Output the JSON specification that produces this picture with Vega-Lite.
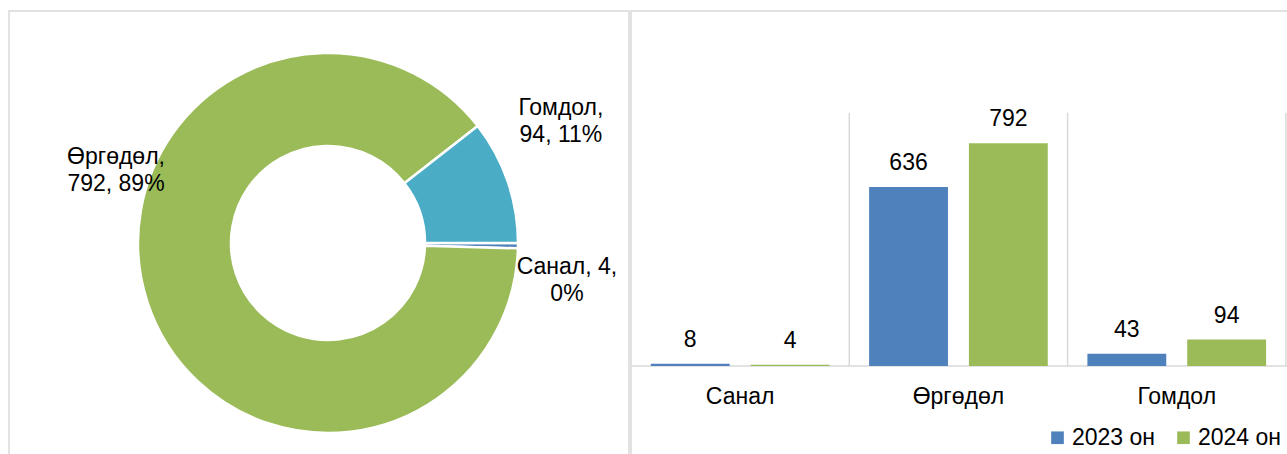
{
  "$schema": "https://vega.github.io/schema/vega-lite/v6.json",
  "padding": {"left": 8, "top": 10, "right": 0, "bottom": 0},
  "background": "white",
  "spacing": 2,
  "bounds": "flush",
  "resolve": {"scale": {"color": "independent"}, "legend": {"color": "independent"}},
  "config": {
    "font": "Liberation Sans",
    "view": {"stroke": null},
    "text": {"font": "Liberation Sans", "color": "#000000"}
  },
  "datasets": {
    "share": [
      {"cat": "Санал", "value": 4, "label": "Санал, 4,\n0%"},
      {"cat": "Өргөдөл", "value": 792, "label": "Өргөдөл,\n792, 89%"},
      {"cat": "Гомдол", "value": 94, "label": "Гомдол,\n94, 11%"}
    ],
    "bars": [
      {"cat": "Санал", "year": "2023 он", "value": 8},
      {"cat": "Санал", "year": "2024 он", "value": 4},
      {"cat": "Өргөдөл", "year": "2023 он", "value": 636},
      {"cat": "Өргөдөл", "year": "2024 он", "value": 792},
      {"cat": "Гомдол", "year": "2023 он", "value": 43},
      {"cat": "Гомдол", "year": "2024 он", "value": 94}
    ]
  },
  "hconcat": [
    {
      "width": 620,
      "height": 450,
      "view": {"stroke": "#D9D9D9", "strokeWidth": 1.5},
      "data": {"name": "share"},
      "encoding": {
        "theta": {"field": "value", "type": "quantitative", "stack": true, "scale": {"range": [0.9072, 7.1904]}},
        "order": {"field": "cat", "type": "ordinal", "sort": "ascending"}
      },
      "layer": [
        {
          "mark": {"type": "arc", "outerRadius": 190, "innerRadius": 97, "stroke": "white", "strokeWidth": 2.5, "xOffset": 9, "yOffset": 7},
          "encoding": {
            "color": {"field": "cat", "type": "nominal", "scale": {"domain": ["Санал", "Өргөдөл", "Гомдол"], "range": ["#4F81BD", "#9BBB59", "#4BACC6"]}, "legend": null}
          }
        },
        {
          "mark": {"type": "text", "radius": 240, "dx": 15, "dy": -50, "fontSize": 23, "lineBreak": "\n", "lineHeight": 27, "align": "center", "baseline": "middle"},
          "encoding": {"text": {"condition": {"test": "datum.cat === 'Гомдол'", "field": "label"}, "value": ""}}
        },
        {
          "mark": {"type": "text", "radius": 240, "dx": 8, "dy": 28, "fontSize": 23, "lineBreak": "\n", "lineHeight": 27, "align": "center", "baseline": "middle"},
          "encoding": {"text": {"condition": {"test": "datum.cat === 'Санал'", "field": "label"}, "value": ""}}
        },
        {
          "mark": {"type": "text", "radius": 100, "dx": -108, "dy": -110, "fontSize": 23, "lineBreak": "\n", "lineHeight": 27, "align": "center", "baseline": "middle"},
          "encoding": {"text": {"condition": {"test": "datum.cat === 'Өргөдөл'", "field": "label"}, "value": ""}}
        }
      ]
    },
    {
      "width": 662,
      "height": 450,
      "view": {"stroke": "#D9D9D9", "strokeWidth": 1.5},
      "data": {"name": "bars"},
      "layer": [
        {
          "transform": [{"aggregate": [{"op": "count", "as": "n"}], "groupby": ["cat"]}],
          "mark": {"type": "rule", "color": "#D9D9D9", "strokeWidth": 1.5},
          "encoding": {
            "x": {"field": "cat", "type": "nominal", "sort": ["Санал", "Өргөдөл", "Гомдол"], "axis": null, "bandPosition": 1, "scale": {"paddingInner": 0, "paddingOuter": 0.0163, "align": 0}},
            "y": {"datum": 900, "type": "quantitative", "scale": {"domain": [-338, 1262], "nice": false, "zero": false}, "axis": null},
            "y2": {"datum": 0}
          }
        },
        {
          "transform": [{"aggregate": [{"op": "count", "as": "n"}]}],
          "mark": {"type": "rule", "color": "#D9D9D9", "strokeWidth": 1.5},
          "encoding": {
            "y": {"datum": 0, "type": "quantitative", "scale": {"domain": [-338, 1262], "nice": false, "zero": false}, "axis": null}
          }
        },
        {
          "mark": {"type": "bar"},
          "encoding": {
            "x": {"field": "cat", "type": "nominal", "sort": ["Санал", "Өргөдөл", "Гомдол"], "axis": null, "scale": {"paddingInner": 0, "paddingOuter": 0.0163, "align": 0}},
            "xOffset": {"field": "year", "type": "nominal", "scale": {"paddingInner": 0.21, "paddingOuter": 0.1985}},
            "y": {"field": "value", "type": "quantitative", "scale": {"domain": [-338, 1262], "nice": false, "zero": false}, "axis": null},
            "y2": {"datum": 0},
            "color": {
              "field": "year", "type": "nominal",
              "scale": {"domain": ["2023 он", "2024 он"], "range": ["#4F81BD", "#9BBB59"]},
              "legend": {"orient": "bottom-right", "direction": "horizontal", "title": null, "symbolType": "square", "symbolSize": 160, "symbolStrokeWidth": 0, "labelFontSize": 23, "labelFont": "Liberation Sans", "labelColor": "#000000", "labelOffset": 3, "columnPadding": 16, "padding": 0, "offset": 11}
            }
          }
        },
        {
          "mark": {"type": "text", "fontSize": 23, "baseline": "alphabetic", "dy": -17},
          "encoding": {
            "x": {"field": "cat", "type": "nominal", "sort": ["Санал", "Өргөдөл", "Гомдол"], "axis": null, "scale": {"paddingInner": 0, "paddingOuter": 0.0163, "align": 0}},
            "xOffset": {"field": "year", "type": "nominal", "scale": {"paddingInner": 0.21, "paddingOuter": 0.1985}},
            "y": {"field": "value", "type": "quantitative", "scale": {"domain": [-338, 1262], "nice": false, "zero": false}, "axis": null},
            "text": {"field": "value", "type": "quantitative"}
          }
        },
        {
          "transform": [{"aggregate": [{"op": "count", "as": "n"}], "groupby": ["cat"]}],
          "mark": {"type": "text", "fontSize": 23, "baseline": "alphabetic", "dy": 38},
          "encoding": {
            "x": {"field": "cat", "type": "nominal", "sort": ["Санал", "Өргөдөл", "Гомдол"], "axis": null, "scale": {"paddingInner": 0, "paddingOuter": 0.0163, "align": 0}},
            "y": {"datum": 0, "type": "quantitative", "scale": {"domain": [-338, 1262], "nice": false, "zero": false}, "axis": null},
            "text": {"field": "cat", "type": "nominal"}
          }
        }
      ]
    }
  ]
}
